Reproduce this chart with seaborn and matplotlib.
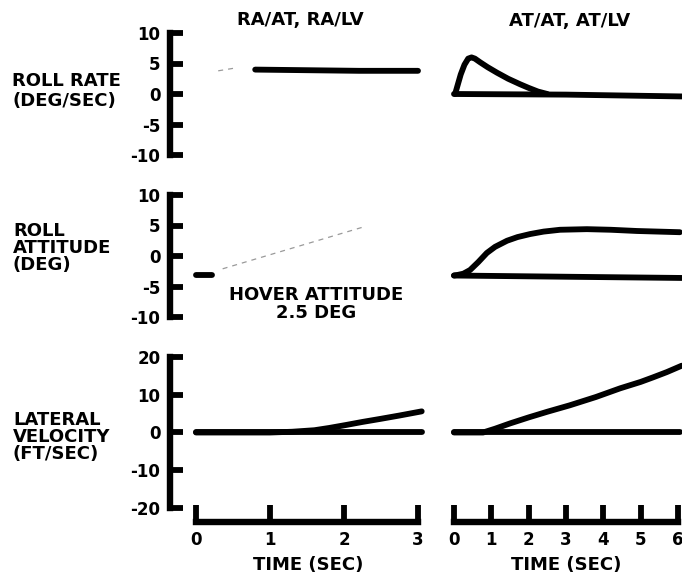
import matplotlib
matplotlib.use("Agg")
import matplotlib.pyplot as plt
import seaborn as sns

#############################################
# Veriler
#############################################

# roll rate (deg/sec)
rr_left_t = [0.8, 1.5, 2.2, 3.0]
rr_left_v = [4.0, 3.9, 3.8, 3.8]
rr_left_faint_t = [0.3, 0.5]
rr_left_faint_v = [3.8, 4.2]
rr_right_up_t = [0.03, 0.1, 0.18, 0.28, 0.38, 0.47, 0.56, 0.7, 0.9, 1.15, 1.45, 1.77, 2.0, 2.25, 2.5]
rr_right_up_v = [0.0, 1.5, 3.2, 4.8, 5.8, 6.0, 5.8, 5.2, 4.4, 3.5, 2.5, 1.6, 1.0, 0.4, 0.0]
rr_right_low_t = [0.0, 3.0, 6.1]
rr_right_low_v = [0.0, -0.1, -0.4]

# roll attitude (deg)
ra_left_t = [0.0, 0.22]
ra_left_v = [-3.1, -3.1]
ra_left_faint_t = [0.36, 2.26]
ra_left_faint_v = [-2.1, 4.75]
ra_right_up_t = [0.0, 0.1, 0.25, 0.43, 0.65, 0.88, 1.1, 1.42, 1.7, 2.04, 2.4, 2.84, 3.56, 4.2, 4.9, 6.05]
ra_right_up_v = [-3.2, -3.1, -2.9, -2.3, -1.0, 0.5, 1.5, 2.5, 3.1, 3.6, 4.0, 4.3, 4.4, 4.3, 4.1, 3.9]
ra_right_low_t = [0.0, 3.0, 6.1]
ra_right_low_v = [-3.2, -3.4, -3.6]

# lateral velocity (ft/sec)
lv_left_up_t = [0.0, 1.0, 1.3, 1.6, 1.8, 2.03, 2.25, 2.49, 2.75, 3.05]
lv_left_up_v = [0.0, 0.0, 0.2, 0.6, 1.2, 2.0, 2.8, 3.6, 4.5, 5.6]
lv_left_low_t = [0.0, 3.05]
lv_left_low_v = [0.0, 0.0]
lv_right_up_t = [0.0, 0.78, 1.1, 1.5, 2.0, 2.5, 3.1, 3.8, 4.45, 5.0, 5.33, 5.7, 6.1]
lv_right_up_v = [0.0, 0.0, 1.0, 2.4, 4.0, 5.5, 7.2, 9.4, 11.7, 13.4, 14.6, 16.0, 17.7]
lv_right_low_t = [0.0, 6.05]
lv_right_low_v = [0.0, 0.0]

col_titles = ["RA/AT, RA/LV", "AT/AT, AT/LV"]
row_labels = ["ROLL RATE\n(DEG/SEC)", "ROLL\nATTITUDE\n(DEG)", "LATERAL\nVELOCITY\n(FT/SEC)"]
small_ticks = [-10, -5, 0, 5, 10]
vel_ticks = [-20, -10, 0, 10, 20]
left_time = [0, 1, 2, 3]
right_time = [0, 1, 2, 3, 4, 5, 6]

#############################################
# Figür
#############################################

sns.set_style("white")
plt.rcParams['font.family'] = ['DejaVu Sans']
plt.rcParams['font.weight'] = 'bold'
plt.rcParams['axes.unicode_minus'] = False
plt.rcParams['text.color'] = 'black'
plt.rcParams['xtick.color'] = 'black'
plt.rcParams['ytick.color'] = 'black'
plt.rcParams['axes.edgecolor'] = 'black'

W, H = 682, 577
fig = plt.figure(figsize=(W / 100, H / 100), dpi=100)

LW = 4.2


def add_ax(xmap, ymap, xlim, ylim):
    # xmap / ymap: iki (deger, piksel) cifti
    (ta, pa), (tb, pb) = xmap
    sx = (pb - pa) / (tb - ta)
    left = pa + (xlim[0] - ta) * sx
    right = pa + (xlim[1] - ta) * sx
    (va, qa), (vb, qb) = ymap
    sy = (qb - qa) / (vb - va)
    top = qa + (ylim[1] - va) * sy
    bottom = qa + (ylim[0] - va) * sy
    ax = fig.add_axes([left / W, 1 - bottom / H, (right - left) / W, (bottom - top) / H])
    ax.set_xlim(xlim)
    ax.set_ylim(ylim)
    ax.patch.set_alpha(0)
    for s in ax.spines.values():
        s.set_visible(False)
    ax.set_xticks([])
    ax.set_yticks([])
    return ax


left_x = ((0, 196), (3, 418))
right_x = ((0, 454), (6, 678))
row_y = [((10, 33), (-10, 155)), ((10, 195), (-10, 317)), ((20, 357), (-20, 508))]
row_lim = [(-11.5, 11.5), (-11.5, 11.5), (-23.8, 22)]
left_lim = (-0.351, 3.15)
right_lim = (-0.15, 6.2)


def line(ax, t, v):
    sns.lineplot(x=t, y=v, ax=ax, color="black", linewidth=LW,
                 solid_capstyle="round", solid_joinstyle="round")


def faint(ax, t, v):
    sns.lineplot(x=t, y=v, ax=ax, color="#9a9a9a", linewidth=0.9,
                 linestyle=(0, (4, 4)))


def y_axis(ax, ticks):
    ax.spines["left"].set_visible(True)
    ax.spines["left"].set_linewidth(LW + 0.4)
    ax.spines["left"].set_color("black")
    ax.spines["left"].set_bounds(ticks[0], ticks[-1])
    ax.set_yticks(ticks)
    ax.tick_params(axis="y", direction="in", length=9, width=LW, pad=7,
                   labelsize=12, left=True, colors="black")


def x_axis(ax, ticks):
    ax.spines["bottom"].set_visible(True)
    ax.spines["bottom"].set_linewidth(LW + 0.4)
    ax.spines["bottom"].set_color("black")
    ax.spines["bottom"].set_bounds(ticks[0], ticks[-1])
    ax.set_xticks(ticks)
    ax.tick_params(axis="x", direction="in", length=12, width=LW, pad=6,
                   labelsize=12, bottom=True, colors="black")


axes = []
for r in range(3):
    axl = add_ax(left_x, row_y[r], left_lim, row_lim[r])
    axr = add_ax(right_x, row_y[r], right_lim, row_lim[r])
    axes.append((axl, axr))

# roll rate
axl, axr = axes[0]
line(axl, rr_left_t, rr_left_v)
faint(axl, rr_left_faint_t, rr_left_faint_v)
line(axr, rr_right_up_t, rr_right_up_v)
line(axr, rr_right_low_t, rr_right_low_v)
y_axis(axl, small_ticks)

# roll attitude
axl, axr = axes[1]
line(axl, ra_left_t, ra_left_v)
faint(axl, ra_left_faint_t, ra_left_faint_v)
line(axr, ra_right_up_t, ra_right_up_v)
line(axr, ra_right_low_t, ra_right_low_v)
y_axis(axl, small_ticks)

# lateral velocity
axl, axr = axes[2]
line(axl, lv_left_up_t, lv_left_up_v)
line(axl, lv_left_low_t, lv_left_low_v)
line(axr, lv_right_up_t, lv_right_up_v)
line(axr, lv_right_low_t, lv_right_low_v)
y_axis(axl, vel_ticks)
x_axis(axl, left_time)
x_axis(axr, right_time)

for row in axes:
    for ax in row:
        ax.set_xlabel("")
        ax.set_ylabel("")

# yazilar
FS = 13
fig.text(300 / W, 1 - 20 / H, col_titles[0], ha="center", va="center", fontsize=FS, fontweight="bold")
fig.text(570 / W, 1 - 21 / H, col_titles[1], ha="center", va="center", fontsize=FS, fontweight="bold")
fig.text(12 / W, 1 - 91 / H, row_labels[0], ha="left", va="center", fontsize=FS, fontweight="bold", linespacing=1.1)
fig.text(13 / W, 1 - 248 / H, row_labels[1], ha="left", va="center", fontsize=FS, fontweight="bold", linespacing=0.92)
fig.text(13 / W, 1 - 437 / H, row_labels[2], ha="left", va="center", fontsize=FS, fontweight="bold", linespacing=0.92)
fig.text(316 / W, 1 - 304 / H, "HOVER ATTITUDE\n2.5 DEG", ha="center", va="center",
         fontsize=FS, fontweight="bold", linespacing=1.0, multialignment="center")
fig.text(308 / W, 1 - 565 / H, "TIME (SEC)", ha="center", va="center", fontsize=FS, fontweight="bold")
fig.text(566 / W, 1 - 565 / H, "TIME (SEC)", ha="center", va="center", fontsize=FS, fontweight="bold")

plt.savefig("out.png", dpi=100, facecolor="white")
